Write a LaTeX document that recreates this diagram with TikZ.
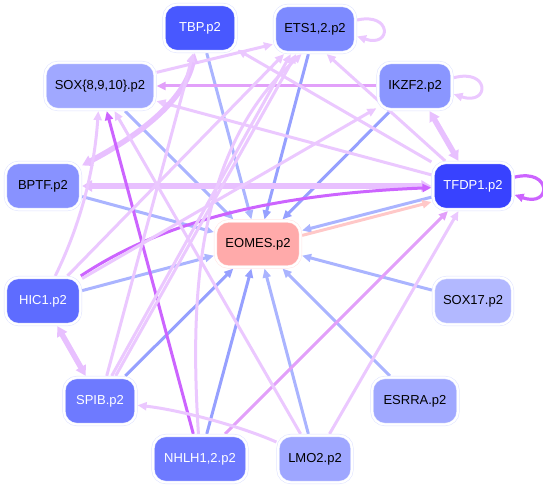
\documentclass[tikz,border=0pt]{standalone}
\usepackage{fontspec}
\setmainfont{Liberation Sans}
\usetikzlibrary{arrows.meta,calc}
\pgfdeclarelayer{bg}
\pgfsetlayers{bg,main}
\definecolor{cTBP}{RGB}{72,88,255}
\definecolor{cETS}{RGB}{125,138,255}
\definecolor{cSOX}{RGB}{160,168,255}
\definecolor{cIKZF}{RGB}{138,150,255}
\definecolor{cBPTF}{RGB}{136,146,255}
\definecolor{cTFDP}{RGB}{56,66,255}
\definecolor{cEOMES}{RGB}{255,170,170}
\definecolor{cHIC}{RGB}{94,108,255}
\definecolor{cSOXs}{RGB}{178,184,255}
\definecolor{cSPIB}{RGB}{110,122,255}
\definecolor{cESRRA}{RGB}{160,168,255}
\definecolor{cNHLH}{RGB}{110,122,255}
\definecolor{cLMO}{RGB}{158,166,255}
\definecolor{ring}{RGB}{222,226,255}
\definecolor{pV}{RGB}{235,200,255}
\definecolor{tV}{RGB}{232,192,255}
\definecolor{mV}{RGB}{226,160,250}
\definecolor{dV}{RGB}{204,100,255}
\definecolor{bL}{RGB}{170,180,255}
\definecolor{bM}{RGB}{150,160,255}
\definecolor{pk}{RGB}{255,200,200}
\tikzset{
  gene/.style={rounded corners=13bp, minimum height=47bp, inner xsep=8bp,
    draw=ring, line width=0.5bp, double=white, double distance=2.2bp, outer sep=1.6bp,
    font=\fontsize{13bp}{15bp}\selectfont},
  wtext/.style={text=white},
  edge/.style={line width=3bp, -{Triangle[length=9bp,width=8bp]}},
  pv/.style={edge, draw=pV},
  mv/.style={edge, draw=mV},
  dv/.style={edge, draw=dV},
  bl/.style={edge, draw=bL},
  bm/.style={edge, draw=bM},
  tv/.style={line width=5.5bp, draw=tV, {Triangle[length=10bp,width=11bp]}-{Triangle[length=10bp,width=11bp]}},
}
\begin{document}
\begin{tikzpicture}[x=1bp,y=-1bp]
\useasboundingbox (0,0) rectangle (543,489);
\node[gene, fill=cTBP, wtext, minimum width=72bp] (TBP) at (200,28) {TBP.p2};
\node[gene, fill=cETS, minimum width=81bp] (ETS) at (315,29) {ETS1,2.p2};
\node[gene, fill=cSOX, minimum width=110bp] (SOX) at (100,86) {SOX\{8,9,10\}.p2};
\node[gene, fill=cIKZF, minimum width=74bp] (IKZF) at (415,86) {IKZF2.p2};
\node[gene, fill=cBPTF, minimum width=75bp] (BPTF) at (43,186) {BPTF.p2};
\node[gene, fill=cTFDP, wtext, minimum width=80bp] (TFDP) at (473,186) {TFDP1.p2};
\node[gene, fill=cEOMES, draw={rgb,255:red,255;green,228;blue,228}, minimum width=85bp, minimum height=46bp] (EOMES) at (258,244) {EOMES.p2};
\node[gene, fill=cHIC, wtext, minimum width=75bp] (HIC) at (43,301) {HIC1.p2};
\node[gene, fill=cSOXs, minimum width=79bp] (SOXs) at (473,301) {SOX17.p2};
\node[gene, fill=cSPIB, wtext, minimum width=72bp] (SPIB) at (100,401) {SPIB.p2};
\node[gene, fill=cESRRA, minimum width=86bp] (ESRRA) at (415,401) {ESRRA.p2};
\node[gene, fill=cNHLH, wtext, minimum width=94bp] (NHLH) at (200,459) {NHLH1,2.p2};
\node[gene, fill=cLMO, minimum width=74bp] (LMO) at (315,459) {LMO2.p2};
\begin{pgfonlayer}{bg}
% blue edges into EOMES
\draw[bl] (TBP) -- (EOMES);
\draw[bm] (ETS) -- (EOMES);
\draw[bl] (SOX) -- (EOMES);
\draw[bm] (IKZF) -- (EOMES);
\draw[bl] (BPTF) -- (EOMES);
\draw[bl] (TFDP.195) -- (EOMES.17);
\draw[edge, draw=pk] (EOMES.11) -- (TFDP.201);
\draw[bl] (HIC) -- (EOMES);
\draw[bl] (SOXs) -- (EOMES);
\draw[bm] (SPIB) -- (EOMES);
\draw[bl] (ESRRA) -- (EOMES);
\draw[bm] (NHLH) -- (EOMES);
\draw[bl] (LMO) -- (EOMES);
% violet edges
\draw[pv] (SOX) -- (ETS.200);
\draw[mv] (IKZF) -- (SOX);
\draw[pv] (TFDP) -- (SOX);
\draw[pv] (TFDP) -- (ETS.-65);
\draw[pv] (TFDP) -- (TBP);
\draw[tv] (IKZF) -- (TFDP);
\draw[tv] (BPTF) -- (TFDP);
\draw[tv] (BPTF) .. controls (140,135) and (185,100) .. (TBP);
\draw[dv] (HIC) .. controls (150,230) and (250,195) .. (TFDP);
\draw[dv] (NHLH) -- (SOX);
\draw[mv] (NHLH) -- (TFDP);
\draw[pv] (LMO) -- (TFDP);
\draw[pv] (LMO) .. controls (240,426) and (180,410) .. (SPIB);
\draw[pv] (LMO) -- (SOX);
\draw[tv] (HIC) -- (SPIB);
\draw[pv] (SPIB) -- (TBP);
\draw[pv] (SPIB.65) -- (ETS.-134);
\draw[pv] (SPIB.58) -- (ETS.-127);
\draw[pv] (HIC) -- (ETS.-141);
\draw[pv] (HIC) .. controls (85,215) and (95,160) .. (SOX);
\draw[pv] (HIC) -- (IKZF);
\draw[pv] (NHLH) .. controls (190,300) and (195,150) .. (ETS.-118);
% self loops
\draw[pv] (ETS.12) .. controls (392,12) and (392,48) .. (ETS.-10);
\draw[pv] (IKZF.12) .. controls (490,68) and (490,106) .. (IKZF.-12);
\draw[dv, line width=3.2bp] (TFDP.12) .. controls (552,168) and (552,208) .. (TFDP.-12);
\end{pgfonlayer}
\end{tikzpicture}
\end{document}
